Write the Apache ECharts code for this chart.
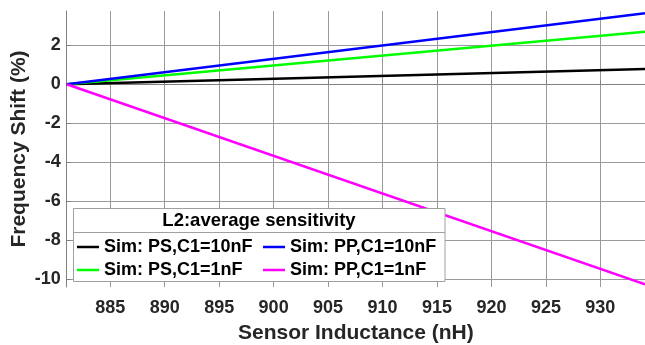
<!DOCTYPE html>
<html>
<head>
<meta charset="utf-8">
<script src="https://cdn.jsdelivr.net/npm/echarts@6/dist/echarts.min.js"></script>
<style>
html,body{margin:0;padding:0;background:#fff;}
#chart{width:645px;height:345px;}
</style>
</head>
<body>
<div id="chart"></div>
<script>
// Data (straight lines from start to end)
const xValues = [881, 934.1];
const psC10 = [0, 0.78];
const psC1 = [0, 2.70];
const ppC10 = [0, 3.64];
const ppC1 = [0, -10.26];
const seriesNames = ['Sim: PS,C1=10nF', 'Sim: PS,C1=1nF', 'Sim: PP,C1=10nF', 'Sim: PP,C1=1nF'];
const seriesColors = ['#000000', '#00ff00', '#0000ff', '#ff00ff'];
const legendTitle = 'L2:average sensitivity';
const xTitle = 'Sensor Inductance (nH)';
const yTitle = 'Frequency Shift (%)';

const FONT = "'Liberation Sans', Arial, sans-serif";
const allValues = [psC10, psC1, ppC10, ppC1];
const series = seriesNames.map((n, i) => ({
  name: n,
  type: 'line',
  symbol: 'none',
  data: xValues.map((x, j) => [x, allValues[i][j]]),
  lineStyle: { color: seriesColors[i], width: 2.5 },
  itemStyle: { color: seriesColors[i] },
  z: 2
}));

const chart = echarts.init(document.getElementById('chart'), null, { renderer: 'canvas' });
const legendCommon = {
  orient: 'vertical',
  top: 238,
  padding: 0,
  itemGap: 5,
  itemWidth: 22,
  itemHeight: 2.5,
  icon: 'rect',
  z: 200,
  textStyle: { fontFamily: FONT, fontWeight: 'bold', fontSize: 18, color: '#000', lineHeight: 18 }
};
chart.setOption({
  animation: false,
  textStyle: { fontFamily: FONT },
  grid: { left: 66.7, right: 0, top: 11, bottom: 58, containLabel: false, outerBoundsMode: 'none' },
  xAxis: {
    type: 'value',
    min: 881,
    max: 934.1,
    splitNumber: 10,
    name: xTitle,
    nameLocation: 'middle',
    nameGap: 36,
    nameMoveOverlap: false,
    nameTextStyle: { fontFamily: FONT, fontWeight: 'bold', fontSize: 21, color: '#262626' },
    axisLine: { show: true, lineStyle: { color: '#808080', width: 1 } },
    axisTick: { show: true, inside: true, length: 4, lineStyle: { color: '#808080' } },
    axisLabel: { showMinLabel: false, showMaxLabel: false, margin: 12, fontFamily: FONT, fontWeight: 'bold', fontSize: 18, color: '#262626' },
    splitLine: { show: true, showMinLine: false, showMaxLine: false, lineStyle: { color: '#9a9a9a', width: 1 } }
  },
  yAxis: {
    type: 'value',
    min: -10.4,
    max: 3.76,
    splitNumber: 7,
    name: yTitle,
    nameLocation: 'middle',
    nameGap: 37,
    nameMoveOverlap: false,
    nameTextStyle: { fontFamily: FONT, fontWeight: 'bold', fontSize: 21, color: '#262626' },
    axisLine: { show: true, lineStyle: { color: '#808080', width: 1 } },
    axisTick: { show: true, inside: true, length: 4, lineStyle: { color: '#808080' } },
    axisLabel: { showMinLabel: false, showMaxLabel: false, margin: 6, fontFamily: FONT, fontWeight: 'bold', fontSize: 18, color: '#262626' },
    splitLine: { show: true, showMinLine: false, showMaxLine: false, lineStyle: { color: '#9a9a9a', width: 1 } }
  },
  legend: [
    Object.assign({}, legendCommon, { left: 77, data: [seriesNames[0], seriesNames[1]] }),
    Object.assign({}, legendCommon, { left: 263, data: [seriesNames[2], seriesNames[3]] })
  ],
  graphic: [
    { type: 'rect', z: 50, shape: { x: 73.5, y: 208.5, width: 371.5, height: 73 },
      style: { fill: '#fff', stroke: '#a0a0a0', lineWidth: 1 } },
    { type: 'line', z: 51, shape: { x1: 73.5, y1: 232.5, x2: 445, y2: 232.5 },
      style: { stroke: '#a0a0a0', lineWidth: 1 } },
    { type: 'text', z: 52, x: 259, y: 220.5,
      style: { text: legendTitle, fill: '#000', font: "bold 18.5px " + FONT, textAlign: 'center', textVerticalAlign: 'middle' } }
  ],
  series: series
});
</script>
</body>
</html>
